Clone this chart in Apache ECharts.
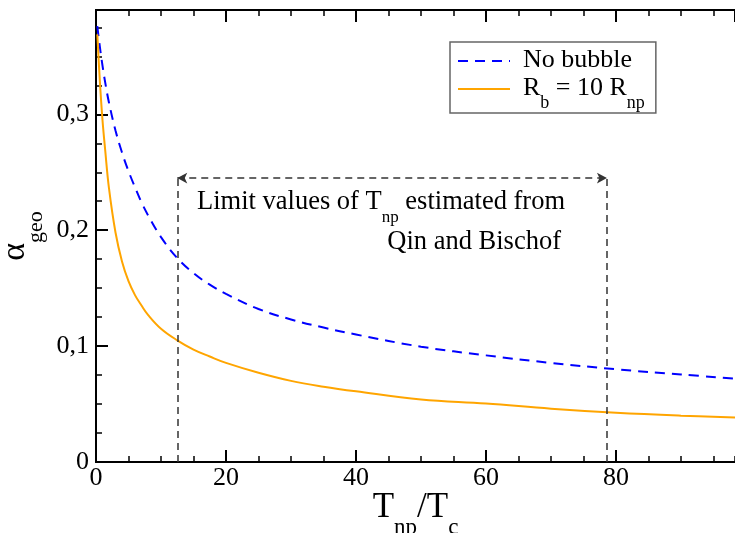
<!DOCTYPE html>
<html>
<head>
<meta charset="utf-8">
<script src="https://cdn.jsdelivr.net/npm/echarts@6/dist/echarts.min.js"></script>
<style>
  html, body { margin: 0; padding: 0; background: #fff; }
  #chart { width: 735px; height: 533px; }
</style>
</head>
<body>
<div id="chart"></div>
<script>
// T_np / T_c
const ratio = [0.2, 0.6, 1, 1.4, 2, 3, 4, 5, 6, 7, 8, 10, 12.5, 15, 17.5, 20, 25, 30, 35, 40, 50, 60, 70, 80, 90, 98.3]
// alpha_geo, no bubble
const noBubble = [0.376, 0.358, 0.342, 0.328, 0.310, 0.286, 0.267, 0.251, 0.237, 0.224, 0.213, 0.194, 0.176, 0.163, 0.153, 0.145, 0.132, 0.123, 0.116, 0.110, 0.0995, 0.092, 0.0855, 0.080, 0.0755, 0.072]
// alpha_geo, R_b = 10 R_np
const withBubble = [0.369, 0.328, 0.295, 0.270, 0.236, 0.198, 0.173, 0.156, 0.144, 0.135, 0.127, 0.115, 0.105, 0.097, 0.091, 0.0855, 0.077, 0.070, 0.065, 0.061, 0.054, 0.0505, 0.046, 0.0425, 0.040, 0.0385]

const yTickLabels = ['0', '0,1', '0,2', '0,3']
const xTickLabels = ['0', '20', '40', '60', '80']

// range of T_np estimated from Qin and Bischof
const limitRange = [12.5, 78.6]
const arrowLevel = 0.245

const font = 'Liberation Serif'
const xMax = 98.3
const yMax = 0.39

const line = { color: '#000', width: 2 }

function axis(pos, min, max, interval, tickLen, extra) {
  return Object.assign({
    type: 'value',
    position: pos,
    min: min,
    max: max,
    interval: interval,
    axisLine: { show: true, onZero: false, lineStyle: line },
    axisTick: { show: true, inside: true, length: tickLen, lineStyle: { color: '#000', width: tickLen > 8 ? 2 : 1.5 } },
    axisLabel: { show: false },
    splitLine: { show: false },
  }, extra || {})
}

const chart = echarts.init(document.getElementById('chart'))

chart.setOption({
  animation: false,
  grid: { left: 96, right: 0, top: 10, bottom: 71, containLabel: false, outerBoundsMode: 'none' },
  xAxis: [
    axis('bottom', 0, xMax, 20, 12, {
      axisLabel: {
        show: true,
        margin: 3,
        showMaxLabel: false,
        fontFamily: font,
        fontSize: 26,
        color: '#000',
        formatter: (v) => xTickLabels[Math.round(v / 20)] ?? '',
      },
      name: '{m|T}{s|np}{m|/T}{s|c}',
      nameLocation: 'middle',
      nameGap: 28,
      nameMoveOverlap: false,
      nameTextStyle: {
        rich: {
          m: { fontFamily: font, fontSize: 35, lineHeight: 36, color: '#000', verticalAlign: 'top' },
          s: { fontFamily: font, fontSize: 23, lineHeight: 22, color: '#000', verticalAlign: 'top', padding: [26, 0, 0, 0] },
        },
      },
    }),
    axis('bottom', 0, xMax, 5, 6),
    axis('top', 0, xMax, 20, 12),
    axis('top', 0, xMax, 5, 6),
  ],
  yAxis: [
    axis('left', 0, yMax, 0.1, 12, {
      axisLabel: {
        show: true,
        margin: 7,
        showMaxLabel: false,
        fontFamily: font,
        fontSize: 26,
        color: '#000',
        formatter: (v) => yTickLabels[Math.round(v * 10)] ?? '',
      },
      name: '{m|α}{s|geo}',
      nameLocation: 'middle',
      nameRotate: 90,
      nameGap: 62,
      nameMoveOverlap: false,
      nameTextStyle: {
        rich: {
          m: { fontFamily: font, fontSize: 34, lineHeight: 36, color: '#000', verticalAlign: 'top' },
          s: { fontFamily: font, fontSize: 22, lineHeight: 22, color: '#000', verticalAlign: 'top', padding: [27, 0, 0, 0] },
        },
      },
    }),
    axis('left', 0, yMax, 0.025, 6),
  ],
  legend: {
    orient: 'vertical',
    left: 450,
    top: 42,
    padding: [5, 11, 1, 7],
    itemGap: 2,
    itemWidth: 52,
    itemHeight: 14,
    borderColor: '#666',
    borderWidth: 1.5,
    itemStyle: { opacity: 0 },
    textStyle: {
      padding: [0, 0, 0, 8],
      rich: {
        m: { fontFamily: font, fontSize: 26, lineHeight: 28, color: '#000', verticalAlign: 'top' },
        s: { fontFamily: font, fontSize: 18, lineHeight: 18, color: '#000', verticalAlign: 'top', padding: [19, 0, 0, 0] },
      },
    },
    formatter: (name) => name === 'No bubble' ? '{m|No bubble}' : '{m|R}{s|b}{m| = 10 R}{s|np}',
    data: ['No bubble', 'Rb = 10 Rnp'],
  },
  series: [
    {
      name: 'No bubble',
      type: 'line',
      xAxisIndex: 0,
      yAxisIndex: 0,
      data: ratio.map((x, i) => [x, noBubble[i]]),
      showSymbol: false,
      symbol: 'none',
      smooth: 0.4,
      lineStyle: { color: '#0000ff', width: 2, type: [10, 7] },
      itemStyle: { color: '#0000ff' },
    },
    {
      name: 'Rb = 10 Rnp',
      type: 'line',
      xAxisIndex: 0,
      yAxisIndex: 0,
      data: ratio.map((x, i) => [x, withBubble[i]]),
      showSymbol: false,
      symbol: 'none',
      smooth: 0.4,
      lineStyle: { color: '#ffa500', width: 2 },
      itemStyle: { color: '#ffa500' },
      markLine: {
        silent: true,
        symbol: ['none', 'none'],
        label: { show: false },
        lineStyle: { color: '#333', width: 1.5, type: [7, 5] },
        data: [
          [{ coord: [limitRange[0], 0] }, { coord: [limitRange[0], arrowLevel] }],
          [{ coord: [limitRange[1], 0] }, { coord: [limitRange[1], arrowLevel] }],
          [
            { coord: [limitRange[0], arrowLevel], symbol: 'arrow', symbolSize: [8, 10] },
            { coord: [limitRange[1], arrowLevel], symbol: 'arrow', symbolSize: [8, 10] },
          ],
        ],
      },
    },
  ],
  graphic: [
    {
      type: 'text',
      x: 197,
      y: 189,
      silent: true,
      style: {
        text: '{m|Limit values of T}{s|np}{m| estimated from}',
        align: 'left',
        verticalAlign: 'top',
        rich: {
          m: { fontFamily: font, fontSize: 26.5, lineHeight: 30, fill: '#000', verticalAlign: 'top' },
          s: { fontFamily: font, fontSize: 17, lineHeight: 18, fill: '#000', verticalAlign: 'top', padding: [20, 0, 0, 0] },
        },
      },
    },
    {
      type: 'text',
      x: 561,
      y: 227,
      silent: true,
      style: {
        text: 'Qin and Bischof',
        align: 'right',
        verticalAlign: 'top',
        fontFamily: font,
        fontSize: 26.5,
        lineHeight: 30,
        fill: '#000',
      },
    },
  ],
})
</script>
</body>
</html>
